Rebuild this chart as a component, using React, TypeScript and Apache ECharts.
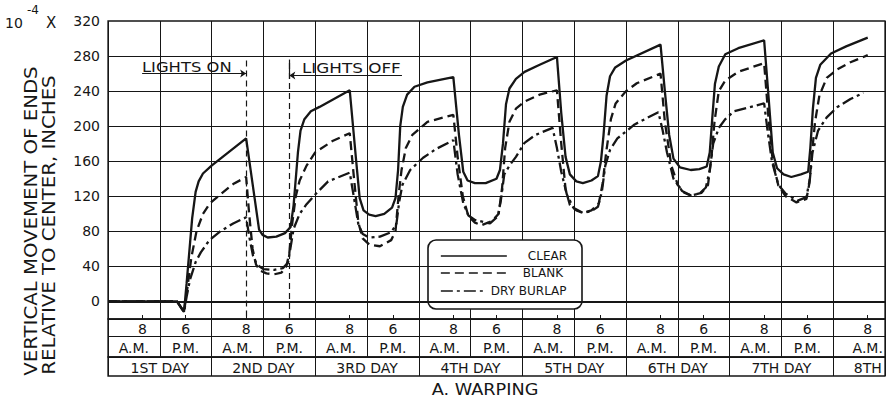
import React, { useEffect, useRef } from 'react';
import * as echarts from 'echarts';

// ---------- data (hours from midnight of the 1st day, value in 10^-4 in.) ----------
const clearData: [number, number][] = [
  [0, 0], [16, 0], [17.6, -12], [18.2, 20], [19.5, 95], [20.3, 125], [21, 137], [22, 146], [24, 155], [32, 186],
  [35, 82], [35.8, 76], [37, 73], [39, 74], [41, 78], [42.3, 85], [43, 110], [44, 170], [44.6, 195], [45.5, 208], [47, 217], [49, 222], [56, 241],
  [57.5, 160], [58.3, 118], [59.2, 104], [60.5, 99], [62, 97.5], [64, 100], [65.8, 107], [66.6, 118], [67.2, 150], [67.7, 200], [68.3, 222], [69.3, 236], [71, 245], [74, 250], [80, 256],
  [81.3, 190], [82.3, 148], [83.3, 138], [85, 135], [87.5, 135], [90, 140], [90.8, 150], [91.5, 180], [92.2, 225], [93, 243], [94.5, 254], [96.5, 262], [100, 270], [104, 279],
  [105, 215], [106, 165], [107, 145], [108.5, 137], [110, 135], [112, 138], [113.5, 143], [114.2, 160], [114.8, 190], [115.5, 235], [116.3, 257], [117.5, 267], [120, 275], [128, 293],
  [129, 240], [130, 190], [131, 163], [132.5, 153], [135, 150], [137, 151], [138.7, 154], [139.4, 170], [140, 210], [140.6, 248], [141.5, 268], [143, 282], [146, 289], [152, 298],
  [153, 235], [154, 170], [155, 152], [156.5, 145], [158.3, 142], [160.5, 145], [162.2, 148], [162.7, 175], [163.3, 220], [164, 255], [165, 270], [167.5, 283], [171, 291], [176, 301],
];

const blankData: [number, number][] = [
  [0, 0], [16, 0], [17.6, -12], [18.2, 8], [19.3, 50], [20.5, 80], [22, 100], [23.6, 112], [26, 122], [29, 134], [32, 142],
  [32.7, 100], [33.5, 60], [34.3, 42], [35.3, 35], [36.7, 32], [38.5, 31], [40.2, 33], [41.3, 40], [42, 55], [42.7, 90], [43.5, 120], [44.4, 138], [46, 155], [48, 170], [52, 183], [56, 192],
  [57, 140], [58, 90], [59, 72], [60.5, 65], [63, 63], [65.6, 70], [66.6, 80], [67.3, 120], [68, 150], [69, 175], [70.5, 190], [74, 205], [80, 213],
  [81, 165], [82.2, 120], [83.5, 97], [85, 90], [86.5, 87], [89, 92], [90.5, 100], [91.3, 130], [92, 175], [93, 205], [94.5, 220], [96.5, 228], [100, 236], [104, 241],
  [105, 180], [106, 128], [107, 110], [108.5, 104], [110, 101], [112, 104], [113.7, 112], [114.6, 135], [115.4, 170], [116.5, 208], [117.6, 226], [120, 240], [122.5, 249], [128, 260],
  [129, 205], [130.5, 155], [132, 133], [133.5, 124], [135, 121], [137.5, 124], [139, 133], [139.8, 165], [140.5, 205], [141.5, 240], [143, 252], [146, 262], [152, 272],
  [153, 210], [154, 160], [155.3, 132], [157, 120], [159.5, 113], [161.8, 117], [162.5, 135], [163, 165], [163.8, 205], [164.8, 235], [166.5, 255], [169, 265], [172, 273], [176, 281],
];

const burlapData: [number, number][] = [
  [0, 0], [16, 0], [17.6, -12], [18.2, 5], [19, 25], [20.3, 45], [21.5, 56], [23.5, 70], [26, 80], [29, 89], [32, 96],
  [32.8, 72], [33.6, 52], [34.5, 42], [36, 37], [38.5, 36], [40.5, 38], [41.7, 44], [42.4, 65], [43, 83], [44.4, 100], [46, 111], [48, 122], [51, 137], [56, 147],
  [57, 118], [58, 88], [59, 77], [60.5, 73], [63, 74], [65.6, 79], [66.8, 88], [67.5, 115], [68.2, 133], [70, 150], [73, 164], [76, 174], [80, 184],
  [81, 145], [82.3, 112], [83.5, 98], [85, 93], [88.5, 89], [90.3, 97], [91, 115], [91.8, 145], [93, 155], [94.5, 165], [96.5, 181], [99, 190], [103, 198],
  [104, 175], [105, 148], [106.3, 122], [107.8, 107], [110, 101], [112, 103], [113.5, 108], [114.4, 125], [115.2, 155], [116.3, 173], [118, 186], [122, 202], [127.5, 216],
  [128.5, 195], [129.5, 170], [131, 140], [133, 126], [135, 121], [137, 123], [138.5, 130], [139.4, 150], [140.2, 180], [141.5, 198], [143, 208], [145, 217], [152, 226],
  [152.8, 195], [153.8, 160], [155.3, 133], [157, 123], [159.8, 115], [161.8, 119], [162.6, 140], [163.2, 170], [164.5, 195], [166.5, 210], [169, 222], [172, 231], [175, 238],
];

const seriesNames = ['CLEAR', 'BLANK', 'DRY BURLAP'];
const yGridValues = [0, 40, 80, 120, 160, 200, 240, 280];

const hourLabelPos = [8, 18, 32, 42, 56, 66, 80, 90, 104, 114, 128, 138, 152, 162, 176];
const hourLabelText = ['8', '6', '8', '6', '8', '6', '8', '6', '8', '6', '8', '6', '8', '6', '8'];
const halfDayPos = [6, 18, 30, 42, 54, 66, 78, 90, 102, 114, 126, 138, 150, 162, 176];
const halfDayText = ['A.M.', 'P.M.', 'A.M.', 'P.M.', 'A.M.', 'P.M.', 'A.M.', 'P.M.', 'A.M.', 'P.M.', 'A.M.', 'P.M.', 'A.M.', 'P.M.', 'A.M.'];
const dayPos = [12, 36, 60, 84, 108, 132, 156, 176];
const dayText = ['1ST DAY', '2ND DAY', '3RD DAY', '4TH DAY', '5TH DAY', '6TH DAY', '7TH DAY', '8TH'];

const lightsOnHour = 32;
const lightsOffHour = 42;

// ---------- styling ----------
const INK = '#161616';
const FONT = 'DejaVu Sans';

function labelAxis(pos: number[], texts: string[], margin: number, ticks: boolean) {
  return {
    type: 'value', gridIndex: 0, min: 0, max: 180, position: 'bottom', offset: 0,
    axisLine: { show: false },
    splitLine: { show: false },
    axisTick: ticks
      ? { show: true, inside: true, length: 4, customValues: pos, lineStyle: { color: INK, width: 1 } }
      : { show: false },
    axisLabel: {
      show: true, customValues: pos, margin, verticalAlign: 'middle',
      fontSize: 14, fontFamily: FONT, color: INK,
      formatter: (v: number) => { const i = pos.indexOf(v); return i >= 0 ? texts[i] : ''; },
    },
  };
}

function legendFor(name: string, top: number, itemWidth: number, padLeft: number) {
  return {
    data: [name], left: 440, top, orient: 'vertical', padding: 0,
    itemWidth, itemHeight: 14, selectedMode: false,
    itemStyle: { opacity: 0 },
    lineStyle: { width: 1.7 },
    textStyle: { fontSize: 12, fontFamily: FONT, color: INK, padding: [0, 0, 0, padLeft] },
  };
}

export default function App() {
  const ref = useRef<HTMLDivElement>(null);
  useEffect(() => {
    if (!ref.current) return;
    const chart = echarts.init(ref.current, undefined, { renderer: 'svg' });
    const lineCommon = { type: 'line', xAxisIndex: 0, yAxisIndex: 0, symbol: 'none', z: 3, silent: true };
    const txt = (text: string, fontSize: number, align: string, vAlign = 'middle') => ({
      text, fontSize, fontFamily: FONT, fill: INK, align, verticalAlign: vAlign, textAlign: align, textVerticalAlign: vAlign,
    });
    const option: any = {
      animation: false,
      backgroundColor: '#ffffff',
      grid: [
        { left: 108, top: 21, width: 777, height: 298, show: true, borderColor: INK, borderWidth: 1.3 },
        { left: 108, top: 319, width: 777, height: 38, show: true, borderColor: INK, borderWidth: 1.3 },
        { left: 108, top: 357, width: 777, height: 19, show: true, borderColor: INK, borderWidth: 1.3 },
      ],
      xAxis: [
        {
          type: 'value', gridIndex: 0, min: 0, max: 180, interval: 12,
          axisLine: { show: false }, axisTick: { show: false }, axisLabel: { show: false },
          splitLine: { show: true, lineStyle: { color: INK, width: 1 } },
        },
        labelAxis(hourLabelPos, hourLabelText, 10, true),
        labelAxis(halfDayPos, halfDayText, 28.5, false),
        labelAxis(dayPos, dayText, 48.5, false),
        {
          type: 'value', gridIndex: 1, min: 0, max: 180, interval: 12,
          axisLine: { show: false }, axisTick: { show: false }, axisLabel: { show: false },
          splitLine: { show: true, lineStyle: { color: INK, width: 1 } },
        },
        {
          type: 'value', gridIndex: 2, min: 0, max: 180, interval: 24,
          axisLine: { show: false }, axisTick: { show: false }, axisLabel: { show: false },
          splitLine: { show: true, lineStyle: { color: INK, width: 1 } },
        },
      ],
      yAxis: [
        {
          type: 'value', gridIndex: 0, min: -20, max: 320, interval: 20,
          axisLine: { show: false }, axisTick: { show: false }, splitLine: { show: false },
          axisLabel: {
            margin: 8, fontSize: 14, fontFamily: FONT, color: INK,
            formatter: (v: number) => (v >= 0 && v % 40 === 0 ? String(v) : ''),
          },
        },
        {
          type: 'value', gridIndex: 1, min: 0, max: 38, interval: 21,
          axisLine: { show: false }, axisTick: { show: false }, axisLabel: { show: false },
          splitLine: { show: true, lineStyle: { color: INK, width: 1 } },
        },
        {
          type: 'value', gridIndex: 2, min: 0, max: 1,
          axisLine: { show: false }, axisTick: { show: false }, axisLabel: { show: false },
          splitLine: { show: false },
        },
      ],
      legend: [
        legendFor(seriesNames[0], 250, 66, 16),
        legendFor(seriesNames[1], 267, 66, 11),
        legendFor(seriesNames[2], 285, 42, 3),
      ],
      series: [
        {
          type: 'line', name: 'grid', xAxisIndex: 0, yAxisIndex: 0, data: [[0, 0]], symbol: 'none', z: 1, silent: true,
          lineStyle: { width: 0 },
          markLine: {
            silent: true, symbol: 'none', animation: false, label: { show: false },
            lineStyle: { color: INK, width: 1, type: 'solid' },
            data: [
              ...yGridValues.map((v) => ({ yAxis: v, lineStyle: { color: INK, width: v === 0 ? 1.8 : 1, type: 'solid' } })),
              [
                { coord: [lightsOnHour, 275], lineStyle: { type: [6, 4], width: 1.2, color: INK } },
                { coord: [lightsOnHour, -20] },
              ],
              [
                { coord: [lightsOffHour, 272], lineStyle: { type: [6, 4], width: 1.2, color: INK } },
                { coord: [lightsOffHour, -20] },
              ],
              [
                { coord: [lightsOffHour, 276], lineStyle: { type: 'solid', width: 1.2, color: INK } },
                { coord: [lightsOffHour, 254] },
              ],
              [
                { coord: [7.9, 260], symbol: 'none', lineStyle: { type: 'solid', width: 1.2, color: INK } },
                { coord: [lightsOnHour, 260], symbol: 'arrow', symbolSize: 6 },
              ],
              [
                { coord: [68.1, 257.8], symbol: 'none', lineStyle: { type: 'solid', width: 1.2, color: INK } },
                { coord: [lightsOffHour, 257.8], symbol: 'arrow', symbolSize: 6 },
              ],
            ],
          },
        },
        { ...lineCommon, name: seriesNames[0], data: clearData, itemStyle: { color: INK }, lineStyle: { color: INK, width: 2.3, type: 'solid' } },
        { ...lineCommon, name: seriesNames[1], data: blankData, itemStyle: { color: INK }, lineStyle: { color: INK, width: 2.3, type: [9, 5] } },
        { ...lineCommon, name: seriesNames[2], data: burlapData, itemStyle: { color: INK }, lineStyle: { color: INK, width: 2.3, type: [12, 4, 3, 4] } },
      ],
      graphic: [
        { type: 'rect', z: 3, shape: { x: 428, y: 240, width: 154, height: 69, r: 8 }, style: { fill: '#ffffff', stroke: INK, lineWidth: 1.6 } },
        { type: 'text', z: 5, x: 31, y: 221, rotation: Math.PI / 2, scaleX: 1.16, style: txt('VERTICAL MOVEMENT OF ENDS', 17, 'center') },
        { type: 'text', z: 5, x: 49, y: 225, rotation: Math.PI / 2, scaleX: 1.16, style: txt('RELATIVE TO CENTER, INCHES', 17, 'center') },
        { type: 'text', z: 5, x: 5, y: 22.5, style: txt('10', 14, 'left') },
        { type: 'text', z: 5, x: 27, y: 10, style: txt('-4', 12, 'left') },
        { type: 'text', z: 5, x: 46, y: 22.5, style: txt('X', 15, 'left') },
        { type: 'text', z: 5, x: 142, y: 67.5, scaleX: 1.17, style: txt('LIGHTS ON', 14, 'left') },
        { type: 'text', z: 5, x: 302, y: 68.5, scaleX: 1.2, style: txt('LIGHTS OFF', 14, 'left') },
        { type: 'text', z: 5, x: 485, y: 390, scaleX: 1.18, style: txt('A. WARPING', 15, 'center') },
      ],
    };
    chart.setOption(option);
    return () => chart.dispose();
  }, []);
  return (
    <div
      ref={ref}
      style={{ position: 'fixed', left: 0, top: 0, width: 888, height: 405, background: '#ffffff' }}
    />
  );
}
